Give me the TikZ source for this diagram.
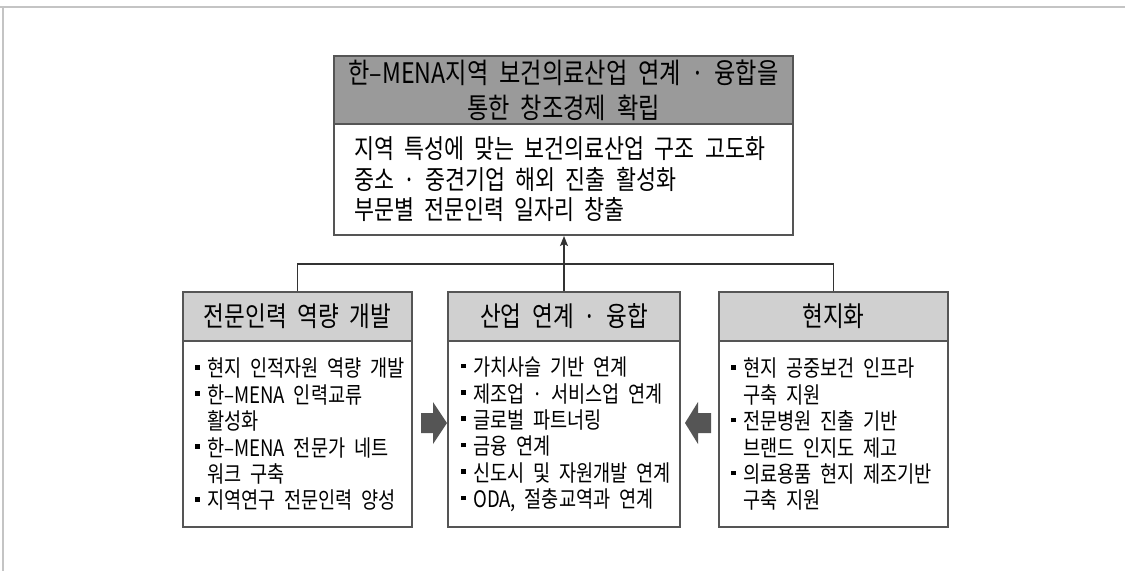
\documentclass[tikz,border=0pt]{standalone}
\usepackage{fontspec}
\setmainfont{Noto Sans CJK KR}[FakeStretch=0.82,WordSpace=2.1]
\usetikzlibrary{arrows.meta}
\definecolor{bordc}{HTML}{555555}
\definecolor{darkhead}{HTML}{9A9A9A}
\definecolor{lighthead}{HTML}{D0D0D0}
\definecolor{framec}{HTML}{C4C4C4}
\definecolor{linec}{HTML}{333333}
\newcommand{\bulit}{\makebox[12pt][l]{\rule[0.33em]{4.6pt}{4.6pt}}}
\newcommand{\contin}{\hspace*{12pt}}
\newcommand{\mdot}{\hspace{0.36em}·\hspace{0.36em}}
\tikzset{
  boxline/.style={draw=bordc, line width=2pt, inner sep=0pt},
  tophead/.style={boxline, fill=darkhead, minimum width=459pt, minimum height=68pt, align=center,
    font=\fontsize{28.3}{35}\selectfont},
  topbody/.style={boxline, fill=white, minimum width=459pt, minimum height=111pt},
  subhead/.style={boxline, fill=lighthead, minimum height=49pt, align=center, font=\fontsize{27.5}{30}\selectfont},
  subbody/.style={boxline, fill=white, minimum height=186pt},
  toptext/.style={inner sep=0pt, align=left, anchor=west,
    font=\fontsize{26.5}{30.5}\selectfont},
  subtext/.style={inner sep=0pt, align=left, anchor=west,
    font=\fontsize{22.7}{26.4}\selectfont},
  conn/.style={draw=linec, line width=1.4pt},
  blockarrow/.style={fill=bordc}
}
\begin{document}
\begin{tikzpicture}[x=1pt,y=-1pt]
\useasboundingbox (0,0) rectangle (1125,571);
\fill[white] (0,0) rectangle (1125,571);
% page frame
\draw[framec, line width=2pt] (0,6.5) -- (1125,6.5);
\draw[framec, line width=1.5pt] (3,6.5) -- (3,571);

% top box
\node[tophead] (th) at (563.5,90) {한–MENA지역 보건의료산업 연계\mdot 융합을\\통한 창조경제 확립};
\node[topbody] (tb) at (563.5,179.5) {};
\node[toptext] (tt) at ([xshift=21pt]tb.west) {지역 특성에 맞는 보건의료산업 구조 고도화\\중소\mdot 중견기업 해외 진출 활성화\\부문별 전문인력 일자리 창출};

% left box
\node[subhead, minimum width=229pt] (lh) at (297.5,316.5) {전문인력 역량 개발};
\node[subbody, minimum width=229pt] (lb) at (297.5,434) {};
\node[subtext] (lt) at ([xshift=13pt,yshift=-0.5pt]lb.west) {\bulit 현지 인적자원 역량 개발\\\bulit 한–MENA 인력교류\\\contin 활성화\\\bulit 한–MENA 전문가 네트\\\contin 워크 구축\\\bulit 지역연구 전문인력 양성};

% middle box
\node[subhead, minimum width=232pt] (mh) at (564,316.5) {산업 연계\mdot 융합};
\node[subbody, minimum width=232pt] (mb) at (564,434) {};
\node[subtext] (mt) at ([xshift=14pt,yshift=-0.5pt]mb.west) {\bulit 가치사슬 기반 연계\\\bulit 제조업\mdot 서비스업 연계\\\bulit 글로벌 파트너링\\\bulit 금융 연계\\\bulit 신도시 및 자원개발 연계\\\bulit ODA, 절충교역과 연계};

% right box
\node[subhead, minimum width=229pt] (rh) at (833.5,316.5) {현지화};
\node[subbody, minimum width=229pt] (rb) at (833.5,434) {};
\node[subtext] (rt) at ([xshift=13pt,yshift=-0.5pt]rb.west) {\bulit 현지 공중보건 인프라\\\contin 구축 지원\\\bulit 전문병원 진출 기반\\\contin 브랜드 인지도 제고\\\bulit 의료용품 현지 제조기반\\\contin 구축 지원};

% connectors
\coordinate (j) at (564,264);
\draw[conn] (lh.north) |- (j) -| (rh.north);
\draw[conn, -{Stealth[length=10pt,width=8pt,inset=2pt]}] (mh.north) -- (mh.north |- tb.south);

% block arrows
\fill[blockarrow] (421,413) -- (433,413) -- (433,402) -- (447,423) -- (433,444) -- (433,433) -- (421,433) -- cycle;
\fill[blockarrow] (711,413) -- (698,413) -- (698,402) -- (685,423) -- (698,444) -- (698,433) -- (711,433) -- cycle;
\end{tikzpicture}
\end{document}
